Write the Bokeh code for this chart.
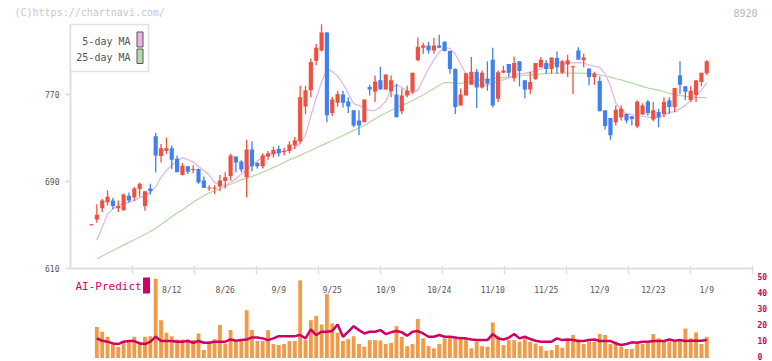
import math
from bokeh.plotting import figure
from bokeh.models import Range1d, ColumnDataSource
from bokeh.core.properties import value
from bokeh.embed import file_html
from bokeh.resources import INLINE

NAN = float("nan")

# ---------------- data ----------------
date_labels = ["8/12", "8/26", "9/9", "9/25", "10/9", "10/24", "11/10", "11/25", "12/9", "12/23", "1/9"]
date_label_idx = [15, 25, 35, 45, 55, 65, 75, 85, 95, 105, 115]
price_ticks = [610, 690, 770]
vol_ticks = [0, 10, 20, 30, 40, 50]
stock_code = "8920"
watermark = "(C)https://chartnavi.com/"

open_ = [650, 655, 665.5, 671, 672.5, 665.5, 663.5, 677, 675.5, 683,
         667.5, 683.5, 731.5, 713.5, 718, 720.5, 711, 696, 704, 700.5,
         701.5, 691, 683.5, 683.5, 685.5, 690.5, 695, 713, 708.5, 694,
         719.5, 707, 704, 713, 715, 720, 717, 718, 723, 727,
         759, 774, 801, 810.5, 827, 753, 762.5, 770, 763.5, 755.5,
         746, 744.5, 777, 772.5, 783, 774.5, 773, 770, 754.5, 769,
         772.5, 801.5, 813, 815, 810.5, 815, 818.5, 810, 793.5, 760,
         769, 779, 791, 776.5, 784.5, 802, 766, 790, 798, 785,
         800.5, 783, 774.5, 784, 795, 799, 793.5, 803.5, 790, 797.5,
         795, 810.5, 801.5, 794, 786, 782.5, 755.5, 748.5, 744.5, 749,
         752, 750, 740.5, 751.5, 763.5, 747, 754, 752, 764.5, 758.5,
         787.5, 777.5, 765, 769.5, 781.5, 789.5]
high = [651, 669, 674, 682, 675, 672.5, 679, 680, 685, 689,
        681, 688, 734.5, 724.5, 730.5, 723, 714, 707, 704, 705,
        702, 694.5, 686.5, 686.5, 696, 698.5, 715.5, 713, 709.5, 728.5,
        727, 708, 716, 718, 722, 723, 721, 727, 731, 778,
        778, 803, 816.5, 834.5, 827.5, 768, 773.5, 773.5, 767.5, 755.5,
        755.5, 765.5, 779, 787.5, 795.5, 788.5, 787.5, 780, 775.5, 778,
        790, 822.5, 817.5, 818.5, 822, 825, 819, 810.5, 794, 775.5,
        790, 804.5, 793.5, 792, 800.5, 813, 792, 796.5, 798, 805,
        800.5, 783, 791, 799, 804.5, 801.5, 804, 809.5, 802, 806.5,
        796.5, 813.5, 807.5, 794, 791, 786.5, 755.5, 748.5, 760, 760,
        752.5, 750, 764.5, 762, 765, 763, 757, 767.5, 767.5, 776,
        800.5, 777.5, 777.5, 783, 790, 801.5]
low = [649.5, 652, 662, 668, 664.5, 662, 663, 670.5, 672, 676,
       663, 678, 698.5, 707.5, 715.5, 701.5, 698.5, 695.5, 697, 697.5,
       688, 684, 681.5, 678.5, 681, 683.5, 691, 698.5, 698.5, 675.5,
       699.5, 702, 702, 710, 712, 713, 714, 716, 720, 725,
       752, 767.5, 797, 809.5, 744.5, 750.5, 759, 758, 753, 740,
       732.5, 744.5, 769, 763, 774.5, 774.5, 767.5, 749, 752, 767.5,
       770.5, 800.5, 807.5, 807.5, 807.5, 812.5, 809.5, 789, 752, 760,
       769, 779, 757.5, 775.5, 773.5, 758, 763, 789.5, 786, 782,
       777.5, 766.5, 770.5, 783.5, 795, 789, 789, 789, 789, 786,
       770.5, 802, 795, 778.5, 779, 754.5, 737.5, 728.5, 741.5, 746,
       743.5, 741.5, 739, 751.5, 750.5, 745.5, 740, 749, 752, 754,
       770.5, 765, 763, 763, 777.5, 788]
close = [650.5, 659.5, 672.5, 676, 667.5, 667.5, 678, 672.5, 683.5, 688,
         681, 681, 714, 720.5, 720.5, 710, 698.5, 704.5, 699, 701.5,
         689, 684, 684.5, 684, 691, 694, 714, 707.5, 701, 719.5,
         704, 704, 714, 716, 719, 716, 718, 724, 728, 767.5,
         774, 800, 813, 827, 751, 765.5, 770.5, 762.5, 759, 741.5,
         741.5, 765.5, 774.5, 782, 774.5, 788.5, 783, 749, 769, 773.5,
         790, 814, 815, 810.5, 815, 813, 810, 793.5, 758.5, 770,
         789.5, 791, 776.5, 790, 780, 760, 790.5, 792, 790, 799,
         791.5, 774.5, 781.5, 799, 802, 793.5, 804, 795, 800.5, 801.5,
         796, 802, 804, 786, 789, 754.5, 741, 732.5, 756, 757,
         746, 747.5, 763.5, 760, 753, 755.5, 749, 763, 758.5, 776,
         779, 772.5, 773.5, 783, 790, 800.5]
ma5 = [NAN, 636, 648, 660, 665, 668, 669.5, 671, 672.5, 675,
       677, 680, 685, 694, 700, 705, 709, 712, 710, 708,
       704, 700, 696, 689, 687, 686.5, 689, 692.5, 697, 701,
       705.5, 709, 712, 714, 716, 717, 718, 719, 721, 725,
       733, 750, 767, 781, 794, 791, 787, 780, 771, 761.5,
       760, 757.5, 755.3, 755.5, 758.3, 764, 775, 779, 776.5, 773.5,
       771.5, 773.8, 784, 793.5, 802, 809, 813, 812.5, 807, 798,
       788.5, 782.5, 778.5, 778.3, 778.3, 780.5, 783, 783.5, 785, 788,
       789, 789.5, 790.5, 792, 793.6, 796, 798, 799, 799, 799,
       799, 799, 799, 797, 796, 795, 789, 778, 762, 756,
       752.5, 751.5, 750.7, 750, 749.1, 749, 749, 751, 753.8, 754,
       756.8, 760, 764.5, 769, 774, 781]
ma25 = [NAN, 619, 621.5, 624, 626.5, 629, 631.5, 634, 636.5, 639,
        641.5, 644, 647, 650.5, 654, 657.5, 661, 664, 667.5, 671,
        674, 677, 679.5, 681.5, 683.3, 685.5, 687.5, 689.5, 691.5, 693,
        694.7, 696.5, 698.5, 700.5, 703, 705, 707.5, 710, 712, 714,
        716.5, 718.5, 721, 723, 725.5, 727.5, 730, 732.3, 734.7, 737,
        739.5, 741.5, 744.5, 747.5, 750.5, 753, 755.5, 758, 760, 762,
        764.5, 767, 769.5, 772.5, 775.5, 778.5, 781, 781, 780.5, 780.3,
        781, 782, 783, 783.5, 784, 784.5, 785, 785.5, 786, 786.5,
        787, 787.5, 788, 788.5, 789, 789.5, 789.6, 789.6, 789.6, 789.6,
        789.6, 789.6, 789.5, 789.5, 789, 788, 787, 786, 784.5, 783.5,
        782, 780.5, 779, 777.5, 776, 775, 774, 772.5, 771, 770,
        769, 768.5, 767.5, 767.3, 767.2, 767]
volume = [NAN, 19.5, 16.6, 13.4, 8.8, 6.9, 10.3, 10.3, 13.4, 10.3,
          13.4, 13.8, 50, 23.9, 15.9, 13.8, 11.7, 11.7, 11.7, 11.3,
          15.5, 5, 10.3, 11.9, 20.8, 9.2, 17.6, 10.3, 12, 30.2,
          17.6, 10.7, 10.7, 17.6, 8.8, 8.2, 8.8, 10.7, 10.7, 49,
          11.3, 23.9, 26.6, 21.2, 40.3, 21.8, 16, 10.7, 11.9, 13.8,
          8.8, 7.1, 11.3, 11.3, 11, 8.8, 9.6, 20.1, 13.4, 7.5,
          8.8, 24.6, 12.4, 7.5, 6.1, 8.8, 12.4, 13.4, 12.4, 13.4,
          12.4, 6.1, 10.3, 7.5, 7.1, 22.4, 13.8, 8.2, 11.3, 11.3,
          10.3, 12.4, 10.3, 9.2, 7.5, 4.7, 5, 8.2, 6.5, 11,
          14.5, 11.7, 8.8, 10.3, 10.3, 15.1, 14.5, 8.8, 10.3, 7.1,
          5.7, 5.7, 8.8, 8.8, 10.3, 15.1, 12.4, 10.3, 10.3, 10.3,
          11.7, 18.6, 12.4, 16.2, 8.8, 13.4]
ai_predict = [NAN, 12.4, 10.9, 10.3, 9.2, 8.8, 10.3, 10.7, 10.7, 9.2,
              8.8, 10.3, 13.4, 10.7, 10.7, 10.7, 10.3, 10.3, 10.7, 9.6,
              10.7, 9.6, 9.6, 10.3, 10.3, 10.3, 11.7, 10.9, 11.3, 11.7,
              13, 13, 12.4, 11.3, 12.4, 13.8, 13.8, 13.8, 13.8, 14.5,
              12.4, 18.1, 14.5, 16.6, 16.6, 17, 21.2, 13.4, 16.6, 20.1,
              17.6, 15.5, 16.6, 16.6, 17.6, 15.1, 16.2, 17, 16.2, 14.1,
              16.6, 17, 15.5, 13.4, 13.4, 14.5, 13.4, 13.4, 13, 12.4,
              12.4, 11.7, 11.3, 11.3, 11.3, 15.1, 12.4, 11.7, 12.8, 15.1,
              12.4, 13.4, 12, 10.9, 10.3, 10.3, 10.3, 12.4, 11.3, 11.7,
              11.3, 10.7, 10.7, 11.3, 11.7, 10.7, 10.7, 10.7, 9.2, 8.2,
              8.8, 9.9, 9.6, 10.3, 10.3, 10.7, 10.7, 10.7, 11.7, 10.9,
              11.3, 10.7, 10.9, 10.9, 10.9, 11.3]

# ---------------- layout (page pixels; the whole canvas is the plot frame) ----------------
W, H = 772, 361
P_LO, P_LO_Y, P_HI, P_HI_Y = 610, 268, 770, 94      # price scale anchors
PPU = (P_LO_Y - P_HI_Y) / (P_HI - P_LO)
X0_PX, X_STEP = 91, 5.35                            # first candle centre, candle pitch
V0_Y, V50_Y = 357.5, 278.3                          # volume scale anchors
VPU = (V0_Y - V50_Y) / 50.0
AX_L, AX_R, AX_T = 70, 752, 24                      # axis box


def dx(px):
    return (px - X0_PX) / X_STEP


def dy(py):
    return P_LO + (P_LO_Y - py) / PPU


def vy(py):
    return (V0_Y - py) / VPU


FONT = value("DejaVu Sans Mono")
GRAY = "#e0e0e0"
TXT = "#555555"
MAG = "#cc0066"

p = figure(width=W, height=H, output_backend="svg", toolbar_location=None, title=None,
           x_range=Range1d(dx(0), dx(W)), y_range=Range1d(dy(H), dy(0)),
           x_axis_location=None, y_axis_location=None,
           min_border_left=0, min_border_right=0, min_border_top=0, min_border_bottom=0)
p.extra_y_ranges = {"vol": Range1d(vy(H), vy(0))}
p.grid.visible = False
p.outline_line_color = None
p.background_fill_color = "white"
p.border_fill_color = "white"

# ---- axes drawn by hand ----
p.segment(x0=[dx(AX_L)], y0=[P_LO], x1=[dx(AX_L)], y1=[dy(AX_T)], line_color=GRAY, line_width=2)
p.segment(x0=[dx(AX_L)], y0=[P_LO], x1=[dx(AX_R)], y1=[P_LO], line_color=GRAY, line_width=2)
# price ticks + labels
p.segment(x0=[dx(AX_L - 5)] * len(price_ticks), y0=price_ticks,
          x1=[dx(AX_L)] * len(price_ticks), y1=price_ticks, line_color=GRAY, line_width=2)
p.text(x=[dx(AX_L - 11)] * len(price_ticks), y=price_ticks, text=[str(t) for t in price_ticks],
       text_font=FONT, text_font_size="8px", text_color=TXT,
       text_align="right", text_baseline="middle")
# x tick marks (evenly spaced along the axis)
n_tx = 11
tick_px = [AX_L + (AX_R - AX_L) * k / n_tx for k in range(1, n_tx + 1)]
p.segment(x0=[dx(t) for t in tick_px], y0=[dy(265)] * n_tx,
          x1=[dx(t) for t in tick_px], y1=[dy(274)] * n_tx,
          line_color=GRAY, line_width=1.5)
# date labels
p.text(x=date_label_idx, y=[dy(290)] * len(date_label_idx), text=date_labels,
       text_font=FONT, text_font_size="8px", text_color=TXT,
       text_align="center", text_baseline="middle")
# volume axis labels (nudged up slightly so the bottom one stays inside the canvas)
p.text(x=[dx(757)] * len(vol_ticks), y=vol_ticks, text=[str(t) for t in vol_ticks],
       y_range_name="vol", text_font=FONT, text_font_size="8px", text_font_style="bold",
       text_color=MAG, text_align="left", text_baseline="middle", y_offset=-2)

# ---- volume + AI predict ----
idx = list(range(len(close)))
p.vbar(x=idx, top=volume, bottom=0, width=0.72, y_range_name="vol",
       fill_color="#f39a46", line_color=None)
p.line(idx, ai_predict, y_range_name="vol", line_color=MAG, line_width=2.5)

# ---- moving averages ----
p.line(idx, ma25, line_color="#b2d9a2", line_width=1.2)
p.line(idx, ma5, line_color="#e8b0e8", line_width=1.2)

# ---- candles ----
cols, btop, bbot = [], [], []
for o, c in zip(open_, close):
    cols.append("#f05040" if c >= o else "#4080f0")
    t, b = max(o, c), min(o, c)
    if t - b < 1.0:
        m = (t + b) / 2
        t, b = m + 0.5, m - 0.5
    btop.append(t)
    bbot.append(b)
src = ColumnDataSource(dict(x=idx, h=high, l=low, t=btop, b=bbot, c=cols))
p.segment(x0="x", y0="l", x1="x", y1="h", line_color="c", line_width=1.3, source=src)
p.vbar(x="x", top="t", bottom="b", width=0.78, fill_color="c", line_color=None, source=src)

# ---- legend box ----
p.quad(left=[dx(70)], right=[dx(148)], top=[dy(24)], bottom=[dy(71)],
       fill_color="white", line_color=GRAY, line_width=1.5)
p.text(x=[dx(130)] * 2, y=[dy(40.5), dy(57)], text=["5-day MA", "25-day MA"],
       text_font=FONT, text_font_size="10px", text_color=TXT,
       text_align="right", text_baseline="middle")
p.quad(left=[dx(136.5)] * 2, right=[dx(142.5)] * 2, top=[dy(31.5), dy(48.5)],
       bottom=[dy(46.5), dy(63)], fill_color=["#eab4ea", "#b6dca8"],
       line_color="#555555", line_width=1)

# ---- AI-Predict legend ----
p.text(x=[dx(75)], y=[dy(286)], text=["AI-Predict"], text_font=FONT,
       text_font_size="11px", text_color=MAG, text_align="left", text_baseline="middle")
p.quad(left=[dx(142.5)], right=[dx(149.5)], top=[dy(277)], bottom=[dy(293)],
       fill_color=MAG, line_color=None)

# ---- watermark + code ----
p.text(x=[dx(14)], y=[dy(12)], text=[watermark], text_font=FONT, text_font_size="10px",
       text_color="#c8c8c8", text_align="left", text_baseline="middle")
p.text(x=[dx(757)], y=[dy(12)], text=[stock_code], text_font=FONT, text_font_size="10px",
       text_color="#b8b8b8", text_align="right", text_baseline="middle")

open("out.html", "w").write(file_html(p, INLINE))
